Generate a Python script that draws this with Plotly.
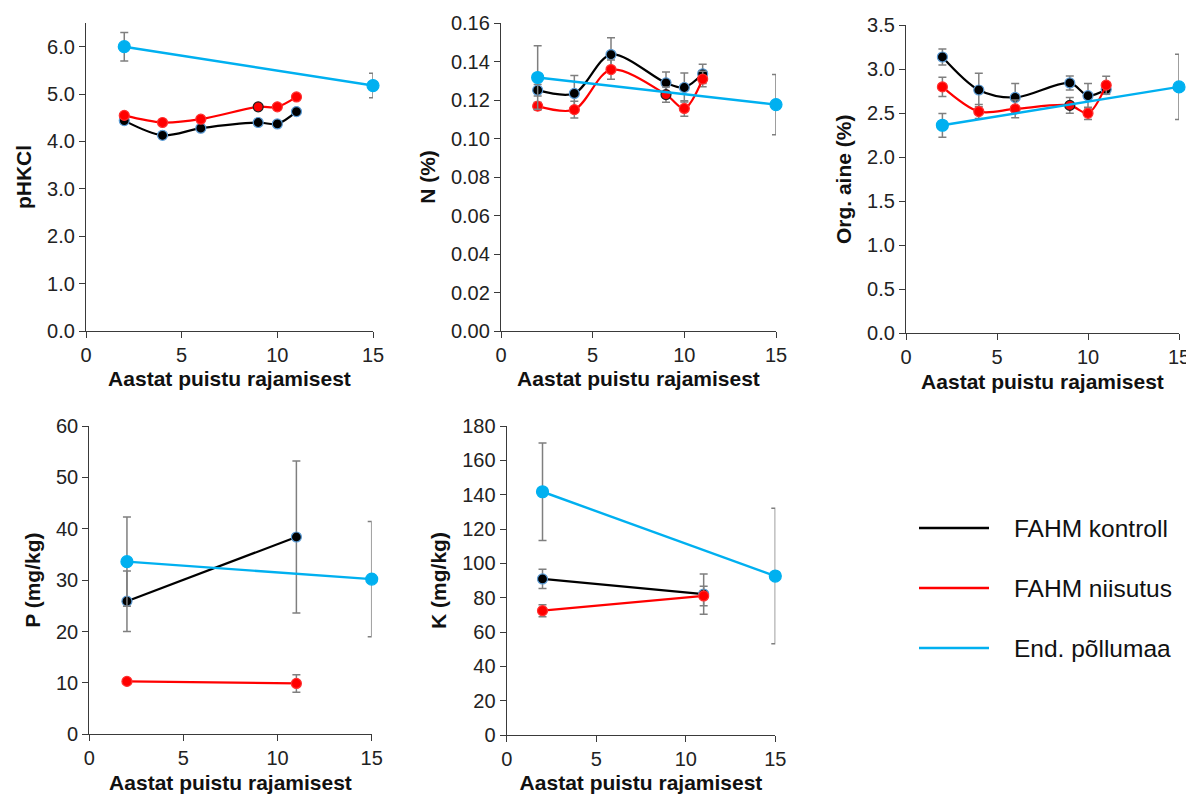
import plotly.graph_objects as go

# ---------------- data ----------------
series_names = ["FAHM kontroll", "FAHM niisutus", "End. põllumaa"]
series_colors = ["#000000", "#FF0000", "#00B0F0"]

years_main = [2, 4, 6, 9, 10, 11]
years_pk = [2, 11]
years_field = [2, 15]

ph_kontroll = [4.44, 4.13, 4.28, 4.40, 4.37, 4.63]
ph_kontroll_err = [0, 0, 0, 0, 0, 0]
ph_niisutus = [4.55, 4.40, 4.47, 4.73, 4.73, 4.94]
ph_niisutus_err = [0, 0, 0, 0, 0, 0]
ph_pollumaa = [6.00, 5.18]
ph_pollumaa_err = [0.30, 0.26]

n_kontroll = [0.1251, 0.1234, 0.1436, 0.1289, 0.1265, 0.1336]
n_kontroll_err = [0.003, 0.0093, 0.0088, 0.0057, 0.0075, 0.005]
n_niisutus = [0.1168, 0.1150, 0.1358, 0.1228, 0.1156, 0.1309]
n_niisutus_err = [0.002, 0.0043, 0.005, 0.004, 0.004, 0.004]
n_pollumaa = [0.1317, 0.1176]
n_pollumaa_err = [0.0165, 0.0156]

org_kontroll = [3.14, 2.765, 2.68, 2.845, 2.70, 2.77]
org_kontroll_err = [0.09, 0.19, 0.16, 0.08, 0.14, 0.05]
org_niisutus = [2.80, 2.52, 2.55, 2.59, 2.50, 2.82]
org_niisutus_err = [0.11, 0.08, 0.10, 0.09, 0.07, 0.10]
org_pollumaa = [2.364, 2.80]
org_pollumaa_err = [0.135, 0.37]

p_kontroll = [25.9, 38.4]
p_kontroll_err = [5.9, 14.8]
p_niisutus = [10.3, 9.9]
p_niisutus_err = [0.5, 1.7]
p_pollumaa = [33.6, 30.2]
p_pollumaa_err = [8.7, 11.2]

k_kontroll = [90.9, 82.1]
k_kontroll_err = [5.6, 11.7]
k_niisutus = [72.4, 81.0]
k_niisutus_err = [3.5, 5.7]
k_pollumaa = [141.7, 92.6]
k_pollumaa_err = [28.4, 39.5]

x_title = "Aastat puistu rajamisest"
x_ticks = [0, 5, 10, 15]

# page body has an 8px margin; the figure starts at (8, 8) and fills to the window edge
W, H, OFF = 1186, 790, 8


def dx(a, b):
    return [(a - OFF) / W, (b - OFF) / W]


def dy(top, bottom):
    return [1 - (bottom - OFF) / H, 1 - (top - OFF) / H]


panels = [
    dict(ytitle="pHKCl", yrange=[0, 6.5], ytick=[0, 1, 2, 3, 4, 5, 6], fmt=".1f",
         xs=[years_main, years_main, years_field],
         ys=[ph_kontroll, ph_niisutus, ph_pollumaa],
         es=[ph_kontroll_err, ph_niisutus_err, ph_pollumaa_err], smooth=True,
         dom=(dx(86, 373), dy(23, 331))),
    dict(ytitle="N (%)", yrange=[0, 0.16], ytick=[0, 0.02, 0.04, 0.06, 0.08, 0.10, 0.12, 0.14, 0.16], fmt=".2f",
         xs=[years_main, years_main, years_field],
         ys=[n_kontroll, n_niisutus, n_pollumaa],
         es=[n_kontroll_err, n_niisutus_err, n_pollumaa_err], smooth=True,
         dom=(dx(501, 776), dy(23, 331))),
    dict(ytitle="Org. aine (%)", yrange=[0, 3.5], ytick=[0, 0.5, 1, 1.5, 2, 2.5, 3, 3.5], fmt=".1f",
         xs=[years_main, years_main, years_field],
         ys=[org_kontroll, org_niisutus, org_pollumaa],
         es=[org_kontroll_err, org_niisutus_err, org_pollumaa_err], smooth=True,
         dom=(dx(906, 1179), dy(25.3, 333.3))),
    dict(ytitle="P (mg/kg)", yrange=[0, 60], ytick=[0, 10, 20, 30, 40, 50, 60], fmt="d",
         xs=[years_pk, years_pk, years_field],
         ys=[p_kontroll, p_niisutus, p_pollumaa],
         es=[p_kontroll_err, p_niisutus_err, p_pollumaa_err], smooth=False,
         dom=(dx(89.3, 371.7), dy(426, 734.3))),
    dict(ytitle="K (mg/kg)", yrange=[0, 180], ytick=[0, 20, 40, 60, 80, 100, 120, 140, 160, 180], fmt="d",
         xs=[years_pk, years_pk, years_field],
         ys=[k_kontroll, k_niisutus, k_pollumaa],
         es=[k_kontroll_err, k_niisutus_err, k_pollumaa_err], smooth=False,
         dom=(dx(506.7, 775.3), dy(426, 735))),
]

FONT = "Liberation Sans, Arial, sans-serif"
AXIS_COLOR = "#3a3a3a"
TEXT_COLOR = "#222222"

fig = go.Figure()
layout = dict(
    width=W, height=H,
    margin=dict(l=0, r=0, t=0, b=0),
    paper_bgcolor="white", plot_bgcolor="white",
    showlegend=False,
    font=dict(family=FONT, color=TEXT_COLOR),
)

for i, p in enumerate(panels):
    n = i + 1
    xa = "x" if n == 1 else f"x{n}"
    ya = "y" if n == 1 else f"y{n}"
    for s in range(3):
        color = series_colors[s]
        xs, ys, es = p["xs"][s], p["ys"][s], p["es"][s]
        is_field = s == 2
        shape = "spline" if (p["smooth"] and not is_field) else "linear"
        if s == 0:
            mline = ["#5B9BD5"] * len(xs)
        elif s == 1:
            mline = ["#202020" if x == 9 else "#FF3030" for x in xs]
        else:
            mline = ["#00B0F0"] * len(xs)
        fig.add_trace(go.Scatter(
            x=xs, y=ys, mode="lines+markers", name=series_names[s],
            xaxis=xa, yaxis=ya, cliponaxis=False,
            line=dict(color=color, width=2.2 if not is_field else 2.4, shape=shape, smoothing=0.9),
            marker=dict(color=color, size=12 if is_field else 10,
                        line=dict(color=mline, width=1.2)),
            error_y=dict(type="data", array=es, visible=True, color="#7F7F7F",
                         thickness=1.5, width=4),
            showlegend=False,
        ))
    xk = "xaxis" if n == 1 else f"xaxis{n}"
    yk = "yaxis" if n == 1 else f"yaxis{n}"
    layout[xk] = dict(
        domain=p["dom"][0], anchor=ya, range=[0, 15], tickvals=x_ticks,
        showline=True, linecolor=AXIS_COLOR, linewidth=1.3, automargin=False,
        ticks="outside", ticklen=6, tickcolor=AXIS_COLOR, tickwidth=1.3,
        showgrid=False, zeroline=False, ticklabeloverflow="allow",
        tickfont=dict(size=20, family=FONT, color=TEXT_COLOR),
        title=dict(text="<b>" + x_title + "</b>", font=dict(size=21, family=FONT, color="#111111"), standoff=6),
    )
    layout[yk] = dict(
        domain=p["dom"][1], anchor=xa, range=p["yrange"], tickvals=p["ytick"],
        tickformat=p["fmt"], automargin=False,
        showline=True, linecolor=AXIS_COLOR, linewidth=1.3,
        ticks="outside", ticklen=6, tickcolor=AXIS_COLOR, tickwidth=1.3,
        showgrid=False, zeroline=False,
        tickfont=dict(size=20, family=FONT, color=TEXT_COLOR),
        title=dict(text="<b>" + p["ytitle"] + "</b>", font=dict(size=21, family=FONT, color="#111111"), standoff=9),
    )

# legend drawn in paper coordinates
shapes = []
annotations = []
legend_py = [528, 588, 648]
for name, color, py in zip(series_names, series_colors, legend_py):
    ly = 1 - (py - OFF) / H
    shapes.append(dict(type="line", xref="paper", yref="paper",
                       x0=(919 - OFF) / W, x1=(989 - OFF) / W, y0=ly, y1=ly,
                       line=dict(color=color, width=2.6)))
    annotations.append(dict(xref="paper", yref="paper", x=(1012 - OFF) / W, y=ly,
                            xanchor="left", yanchor="middle", text=name, showarrow=False,
                            font=dict(size=24.5, family=FONT, color="#111111")))
layout["shapes"] = shapes
layout["annotations"] = annotations

fig.update_layout(**layout)
fig.write_html("out.html")
